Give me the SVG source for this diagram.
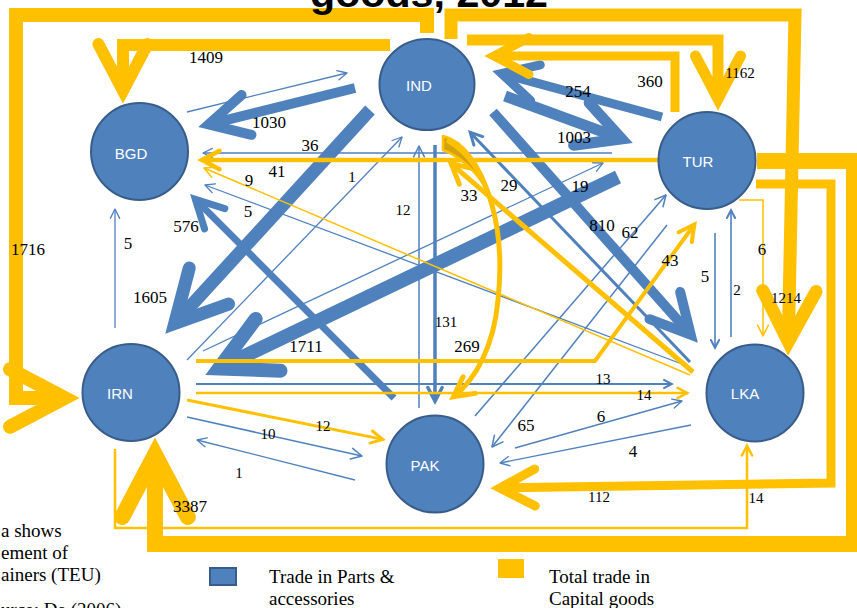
<svg xmlns="http://www.w3.org/2000/svg" width="857" height="608" viewBox="0 0 857 608">
  <style>
    .b { stroke: #4F81BD; fill: none; stroke-linejoin: miter; }
    .y { stroke: #FFC000; fill: none; stroke-linejoin: miter; }
    .node { fill: #4F81BD; stroke: #385D8A; stroke-width: 2; }
    .nt { font-family: "Liberation Sans", Arial, sans-serif; font-size: 15px; fill: #FFFFFF; text-anchor: middle; }
    .lbl { font-family: "Liberation Serif", "Times New Roman", serif; font-size: 17px; fill: #000000; text-anchor: middle; }
    .sm { font-size: 15px; }
    .txt { font-family: "Liberation Serif", "Times New Roman", serif; font-size: 19px; fill: #000000; }
  </style>
  <defs>
    <!-- open arrowheads, sized by line width -->
    <marker id="bh" markerUnits="strokeWidth" orient="auto" overflow="visible">
      <path d="M-4,-2.05 L-0.1,0 L-4,2.05" fill="none" stroke="#4F81BD" stroke-width="1" stroke-linecap="round" stroke-linejoin="miter"/>
    </marker>
    <marker id="yh" markerUnits="strokeWidth" orient="auto" overflow="visible">
      <path d="M-4,-2.05 L-0.1,0 L-4,2.05" fill="none" stroke="#FFC000" stroke-width="1" stroke-linecap="round" stroke-linejoin="miter"/>
    </marker>
    <marker id="bl" markerUnits="strokeWidth" orient="auto" overflow="visible">
      <path d="M-7.2,-3.6 L0,0 L-7.2,3.6" fill="none" stroke="#4F81BD" stroke-width="1" stroke-linecap="round" stroke-linejoin="round"/>
    </marker>
    <marker id="yl" markerUnits="strokeWidth" orient="auto" overflow="visible">
      <path d="M-7.2,-3.6 L0,0 L-7.2,3.6" fill="none" stroke="#FFC000" stroke-width="1" stroke-linecap="round" stroke-linejoin="round"/>
    </marker>
  </defs>

  <rect x="0" y="0" width="857" height="608" fill="#FFFFFF"/>

  <g id="connectors">
    <!-- trade in parts & accessories -->
    <g id="parts">
      <path class="b" stroke-width="10" d="M355,88 L207.7,124.6" marker-end="url(#bh)"/>
      <path class="b" stroke-width="1.3" d="M187,112 L347,73" marker-end="url(#bl)"/>
      <path class="b" stroke-width="13" d="M370,110 L173.8,324.4" marker-end="url(#bh)"/>
      <path class="b" stroke-width="7" d="M394,398 L194.9,198.9" marker-end="url(#bh)"/>
      <path class="b" stroke-width="14" d="M618,177 L217.6,369" marker-end="url(#bh)"/>
      <path class="b" stroke-width="10" d="M493,112 L691.4,335.5" marker-end="url(#bh)"/>
      <path class="b" stroke-width="9" d="M662,117 L500.7,73.3" marker-end="url(#bh)"/>
      <path class="b" stroke-width="11" d="M505,96 L622.7,139.2" marker-end="url(#bh)"/>
      <path class="b" stroke-width="3" d="M690,362 L470,132.2" marker-end="url(#bh)"/>
      <path class="b" stroke-width="1.3" d="M187,360 L402,137" marker-end="url(#bl)"/>
      <path class="b" stroke-width="1.3" d="M203,351 L603,163" marker-end="url(#bl)"/>
      <path class="b" stroke-width="1.3" d="M612,153 L203,153" marker-end="url(#bl)"/>
      <path class="b" stroke-width="1.3" d="M690,367 L205,185" marker-end="url(#bl)"/>
      <path class="b" stroke-width="1.5" d="M419,408 L419,146" marker-end="url(#bl)"/>
      <path class="b" stroke-width="3.5" d="M435,145 L435,401.5" marker-end="url(#bh)"/>
      <path class="b" stroke-width="2" d="M196,384 L672,384" marker-end="url(#bh)"/>
      <path class="b" stroke-width="1.5" d="M187,417 L362,456" marker-end="url(#bl)"/>
      <path class="b" stroke-width="1.3" d="M355,480 L197,440" marker-end="url(#bl)"/>
      <path class="b" stroke-width="1.3" d="M515,448 L682,401" marker-end="url(#bl)"/>
      <path class="b" stroke-width="1.3" d="M691,425 L500,463" marker-end="url(#bl)"/>
      <path class="b" stroke-width="2" stroke-opacity="0.8" d="M715,233 L715,348" marker-end="url(#bh)"/>
      <path class="b" stroke-width="2" stroke-opacity="0.8" d="M731,337 L731,210" marker-end="url(#bh)"/>
      <path class="b" stroke-width="1.3" d="M115,328 L115,209" marker-end="url(#bl)"/>
      <path class="b" stroke-width="1.5" d="M475,416 L666,195" marker-end="url(#bl)"/>
      <path class="b" stroke-width="1.5" d="M667,225 L492,447" marker-end="url(#bl)"/>
    </g>
    <!-- total trade in capital goods -->
    <g id="capital">
      <path class="y" stroke-width="12" d="M390,45 H123 V92" marker-end="url(#yh)"/>
      <path class="y" stroke-width="14" d="M427,33 V15 H16 V398 H66" marker-end="url(#yh)"/>
      <path class="y" stroke-width="13" d="M451,39 V15 H795 L788.3,343" marker-end="url(#yh)"/>
      <path class="y" stroke-width="11" d="M467,40 H718 V100" marker-end="url(#yh)"/>
      <path class="y" stroke-width="9" d="M675,112 V56 H493" marker-end="url(#yh)"/>
      <path class="y" stroke-width="16" d="M757,161 H854 V544 H155 V453" marker-end="url(#yh)"/>
      <path class="y" stroke-width="9" d="M756,184 H831 V483 L499,488" marker-end="url(#yh)"/>
      <path class="y" stroke-width="1.5" d="M739,200 H763 V336" marker-end="url(#yl)"/>
      <path class="y" stroke-width="2.5" d="M115,449 V528 H747 V445.5" marker-end="url(#yh)"/>
      <path class="y" stroke-width="4.5" d="M658,160 H201.5" marker-end="url(#yh)"/>
      <path class="y" stroke-width="1.5" d="M690,375 L204,168" marker-end="url(#yl)"/>
      <path class="y" stroke-width="5" d="M693,372 L450.8,163.3" marker-end="url(#yh)"/>
      <path d="M443,136 C462,140 482,165 491,200 C484,180 465,158 443,150 Z" fill="#D4A20C" stroke="#FFC000" stroke-width="2.5" stroke-linejoin="round"/>
      <path class="y" stroke-width="5" d="M447,140 C492,165 505,235 498,300 C494,345 476,380 453,397" marker-end="url(#yh)"/>
      <path class="y" stroke-width="4" d="M196,361 H595 L694.6,224.2" marker-end="url(#yh)"/>
      <path class="y" stroke-width="2.5" d="M196,393 H687.5" marker-end="url(#yh)"/>
      <path class="y" stroke-width="3" d="M187,400 L383,439.4" marker-end="url(#yh)"/>
    </g>
  </g>

  <g id="IND"><ellipse class="node" cx="427" cy="84.5" rx="47.5" ry="45.5"/><text class="nt" x="419" y="91">IND</text></g>
  <g id="BGD"><circle class="node" cx="139.5" cy="151.5" r="48.5"/><text class="nt" x="131" y="159">BGD</text></g>
  <g id="TUR"><circle class="node" cx="707" cy="160.5" r="48.5"/><text class="nt" x="698" y="167">TUR</text></g>
  <g id="IRN"><circle class="node" cx="131" cy="392.5" r="48.5"/><text class="nt" x="120" y="399">IRN</text></g>
  <g id="LKA"><circle class="node" cx="755" cy="393" r="48.5"/><text class="nt" x="745" y="399">LKA</text></g>
  <g id="PAK"><circle class="node" cx="435" cy="464" r="48.5"/><text class="nt" x="425" y="471">PAK</text></g>

  <g id="labels">
    <text class="lbl" x="206" y="63">1409</text>
    <text class="lbl" x="269" y="128">1030</text>
    <text class="lbl" x="310" y="151">36</text>
    <text class="lbl" x="277" y="177">41</text>
    <text class="lbl" x="249" y="186">9</text>
    <text class="lbl" x="248" y="217">5</text>
    <text class="lbl sm" x="352" y="182">1</text>
    <text class="lbl" x="186" y="232">576</text>
    <text class="lbl" x="128" y="249">5</text>
    <text class="lbl" x="28" y="255">1716</text>
    <text class="lbl" x="150" y="303">1605</text>
    <text class="lbl sm" x="403" y="215">12</text>
    <text class="lbl" x="469" y="201">33</text>
    <text class="lbl" x="509" y="191">29</text>
    <text class="lbl" x="580" y="192">19</text>
    <text class="lbl" x="602" y="231">810</text>
    <text class="lbl" x="630" y="238">62</text>
    <text class="lbl" x="670" y="266">43</text>
    <text class="lbl" x="705" y="282">5</text>
    <text class="lbl sm" x="737" y="295">2</text>
    <text class="lbl" x="762" y="255">6</text>
    <text class="lbl sm" x="786" y="303">1214</text>
    <text class="lbl" x="578" y="97">254</text>
    <text class="lbl" x="650" y="87">360</text>
    <text class="lbl sm" x="740" y="78">1162</text>
    <text class="lbl" x="574" y="143">1003</text>
    <text class="lbl sm" x="446" y="327">131</text>
    <text class="lbl" x="467" y="352">269</text>
    <text class="lbl" x="306" y="352">1711</text>
    <text class="lbl sm" x="603" y="384">13</text>
    <text class="lbl sm" x="644" y="400">14</text>
    <text class="lbl" x="526" y="431">65</text>
    <text class="lbl" x="601" y="422">6</text>
    <text class="lbl" x="633" y="457">4</text>
    <text class="lbl sm" x="599" y="502">112</text>
    <text class="lbl sm" x="756" y="503">14</text>
    <text class="lbl sm" x="268" y="439">10</text>
    <text class="lbl sm" x="323" y="431">12</text>
    <text class="lbl sm" x="239" y="478">1</text>
    <text class="lbl" x="190" y="512">3387</text>
  </g>

  <g id="notes">
    <text class="txt" x="1" y="537">a shows</text>
    <text class="txt" x="1" y="559">ement of</text>
    <text class="txt" x="1" y="581">ainers (TEU)</text>
    <text class="txt" x="1" y="616">urce: De (2006)</text>
  </g>

  <g id="legend">
    <rect x="210" y="568" width="26" height="17" fill="#4F81BD" stroke="#385D8A" stroke-width="2"/>
    <text class="txt" x="269" y="583">Trade in Parts &amp;</text>
    <text class="txt" x="269" y="605">accessories</text>
    <rect x="498" y="559" width="26" height="19" fill="#FFC000"/>
    <text class="txt" x="549" y="583">Total trade in</text>
    <text class="txt" x="549" y="605">Capital goods</text>
  </g>

  <text x="429" y="7" font-family="Liberation Sans, Arial, sans-serif" font-weight="bold" font-size="38" text-anchor="middle" textLength="238" lengthAdjust="spacingAndGlyphs" fill="#000000">goods, 2012</text>
</svg>
